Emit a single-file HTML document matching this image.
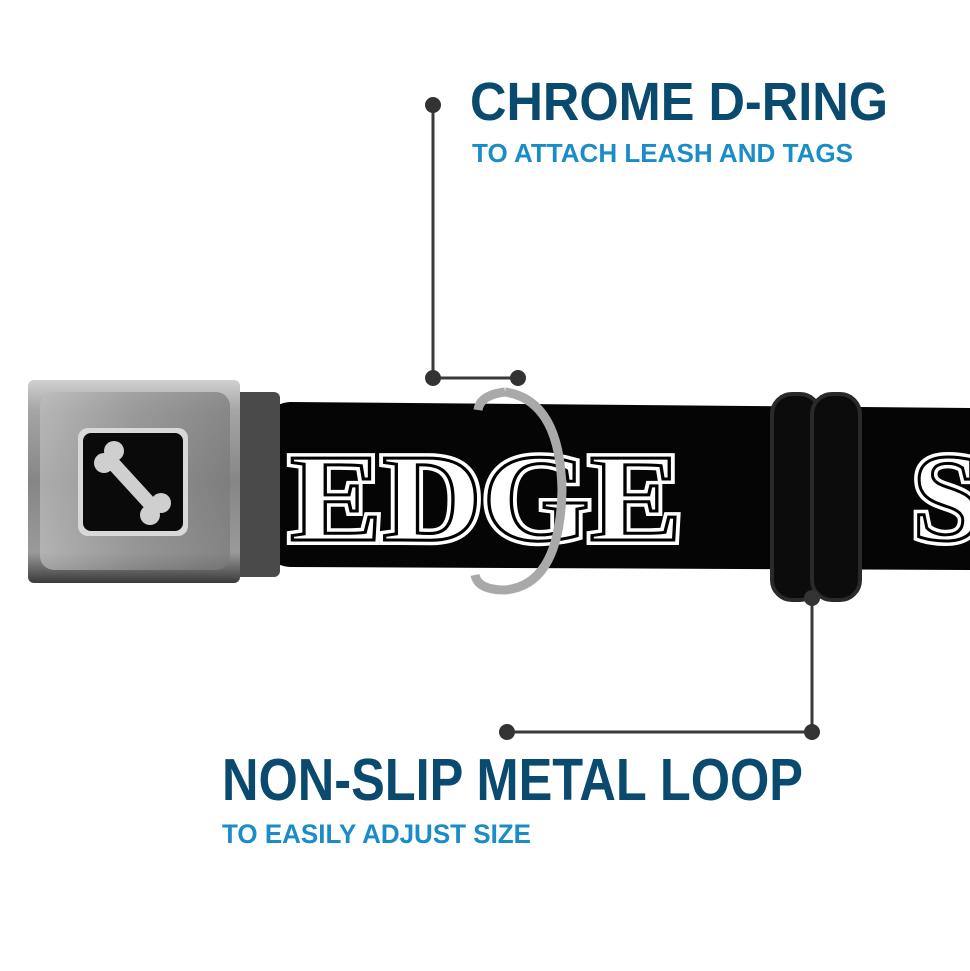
<!DOCTYPE html>
<html><head><style>html,body{margin:0;padding:0;background:#fff}svg{display:block}</style></head>
<body>
<svg width="970" height="971" viewBox="0 0 970 971" xmlns="http://www.w3.org/2000/svg">
<defs>
<linearGradient id="bk" x1="0" y1="0" x2="0" y2="1">
<stop offset="0" stop-color="#d0d0d0"/><stop offset="0.15" stop-color="#a5a5a5"/><stop offset="0.5" stop-color="#868686"/><stop offset="0.85" stop-color="#9a9a9a"/><stop offset="1" stop-color="#3a3a3a"/></linearGradient>
<linearGradient id="bk2" x1="0" y1="0" x2="1" y2="0">
<stop offset="0" stop-color="#bdbdbd"/><stop offset="0.5" stop-color="#959595"/><stop offset="1" stop-color="#7a7a7a"/></linearGradient>
</defs>
<path d="M290 402 L970 408 L970 570 L290 567 Q262 565 262 530 L262 440 Q262 404 290 402Z" fill="#050505"/>
<rect x="225" y="392" width="55" height="185" rx="6" fill="#4a4a4a"/>
<rect x="28" y="380" width="212" height="203" rx="6" fill="url(#bk)"/>
<rect x="40" y="392" width="190" height="178" rx="14" fill="url(#bk2)" opacity="0.7"/>
<rect x="78" y="428" width="110" height="108" rx="10" fill="#d8d8d8"/>
<rect x="83" y="433" width="100" height="98" rx="8" fill="#0a0a0a"/>
<g fill="#cfcfcf">
<line x1="110" y1="460" x2="152" y2="506" stroke="#cfcfcf" stroke-width="14"/>
<circle cx="104" cy="463" r="10"/><circle cx="114" cy="451" r="10"/>
<circle cx="150" cy="515" r="10"/><circle cx="161" cy="503" r="10"/>
</g>
<g font-family="Liberation Serif, serif" font-weight="bold" font-size="125">
<text x="290" y="540" fill="#fff" stroke="#fff" stroke-width="10" stroke-linejoin="miter" textLength="392" lengthAdjust="spacingAndGlyphs">EDGE</text>
<text x="290" y="540" fill="none" stroke="#000" stroke-width="3" textLength="392" lengthAdjust="spacingAndGlyphs">EDGE</text>
<text x="912" y="540" fill="#fff" stroke="#fff" stroke-width="10">S</text>
<text x="912" y="540" fill="none" stroke="#000" stroke-width="3">S</text>
</g>
<path d="M505 392 Q560 400 562 490 Q560 585 505 590 Q478 590 475 575" fill="none" stroke="#a9a9a9" stroke-width="9"/>
<path d="M505 392 Q480 395 478 410" fill="none" stroke="#a9a9a9" stroke-width="9"/>
<rect x="772" y="394" width="48" height="206" rx="20" fill="#0c0c0c" stroke="#2a2a2a" stroke-width="4"/>
<rect x="812" y="394" width="48" height="206" rx="20" fill="#0c0c0c" stroke="#2a2a2a" stroke-width="4"/>
<g stroke="#3a3a3a" stroke-width="3" fill="none">
<polyline points="433,105 433,378 518,378"/>
<polyline points="812,598 812,732 507,732"/>
</g>
<g fill="#333">
<circle cx="433" cy="105" r="8"/><circle cx="433" cy="378" r="8"/><circle cx="518" cy="378" r="8"/>
<circle cx="812" cy="598" r="8"/><circle cx="812" cy="732" r="8"/><circle cx="507" cy="732" r="8"/>
</g>
<g font-family="Liberation Sans, sans-serif" font-weight="bold">
<text x="470" y="120" font-size="54" fill="#0a4a6e" textLength="418" lengthAdjust="spacingAndGlyphs">CHROME D-RING</text>
<text x="472" y="162" font-size="26" fill="#1a8cc8" textLength="381" lengthAdjust="spacingAndGlyphs">TO ATTACH LEASH AND TAGS</text>
<text x="222" y="800" font-size="59" fill="#0a4a6e" textLength="581" lengthAdjust="spacingAndGlyphs">NON-SLIP METAL LOOP</text>
<text x="222" y="843" font-size="27" fill="#1a8cc8" textLength="309" lengthAdjust="spacingAndGlyphs">TO EASILY ADJUST SIZE</text>
</g>
</svg>
</body></html>
